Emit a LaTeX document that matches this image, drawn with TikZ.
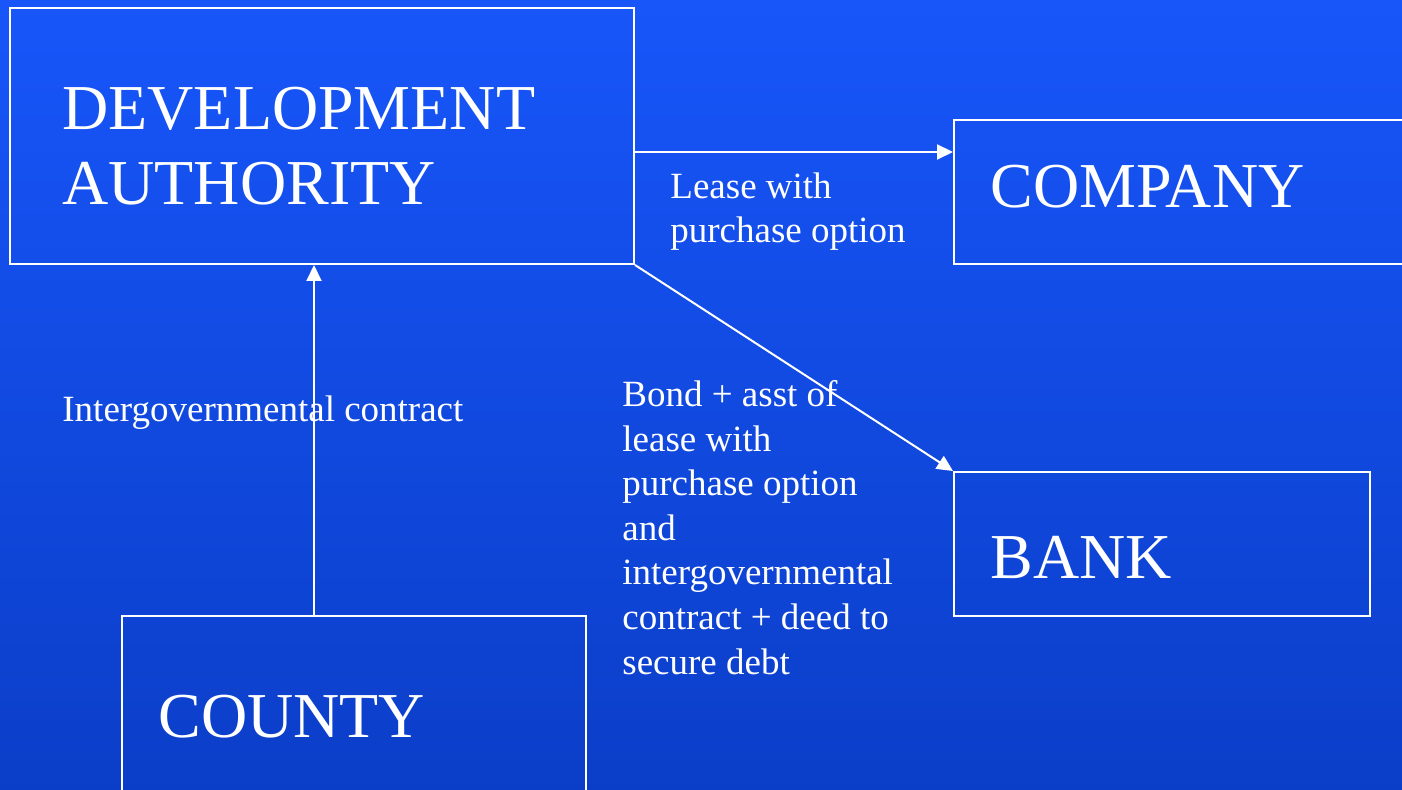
\documentclass[tikz,border=0pt]{standalone}
\usepackage{fontspec}
\setmainfont{Liberation Serif}
\usepackage{tikz}
\usetikzlibrary{arrows.meta}

\definecolor{bgtop}{RGB}{24,86,250}
\definecolor{bgbot}{RGB}{11,62,200}

\begin{document}
\begin{tikzpicture}[x=0.5pt,y=-0.5pt]
	 \tikzstyle{party}=[draw=white,line width=1pt,rectangle,inner sep=0pt]
	 \tikzstyle{big}=[white,anchor=base west,inner sep=0pt,font=\fontsize{32}{37.5}\selectfont]
	 \tikzstyle{small}=[white,anchor=base west,inner sep=0pt,align=left,font=\fontsize{18.5}{22.3}\selectfont]
	 \tikzstyle{edge} = [draw,line width=1pt,white,-{Triangle[length=8pt,width=7.5pt]}]

	 \useasboundingbox (0,0) rectangle (1402,790);
	 \clip (0,0) rectangle (1402,790);
	 \shade[top color=bgtop,bottom color=bgbot] (0,0) rectangle (1402,790);

	 % boxes
	 \node[party,minimum width=312pt,minimum height=128pt] (da) at (322,136) {};
	 \node[party,minimum width=233pt,minimum height=72pt] (company) at (1187,192) {};
	 \node[party,minimum width=208pt,minimum height=72pt] (bank) at (1162,544) {};
	 \node[party,minimum width=232pt,minimum height=97pt] (county) at (354,713) {};

	 % box titles
	 \node[big] (t1) at (62,130) {DEVELOPMENT};
	 \node[big] (t2) at (62,205) {AUTHORITY};
	 \node[big] (t3) at (990,208) {COMPANY};
	 \node[big] (t4) at (990,578) {BANK};
	 \node[big] (t5) at (158,737) {COUNTY};

	 % arrows
	 \coordinate (lease) at (634,152);
	 \coordinate (contract) at (314,616);
	 \draw[edge] (lease) -- (lease -| company.west);
	 \draw[edge] (contract) -- (contract |- da.south);
	 \draw[edge] (da.south east) -- (bank.north west);

	 % arrow labels (base = last line)
	 \node[small] (l1) at (670,243) {Lease with\\purchase option};
	 \node[small] (l2) at (62,422) {Intergovernmental contract};
	 \node[small] (l3) at (622,674) {Bond + asst of\\lease with\\purchase option\\and\\intergovernmental\\contract + deed to\\secure debt};
 \end{tikzpicture}
\end{document}
